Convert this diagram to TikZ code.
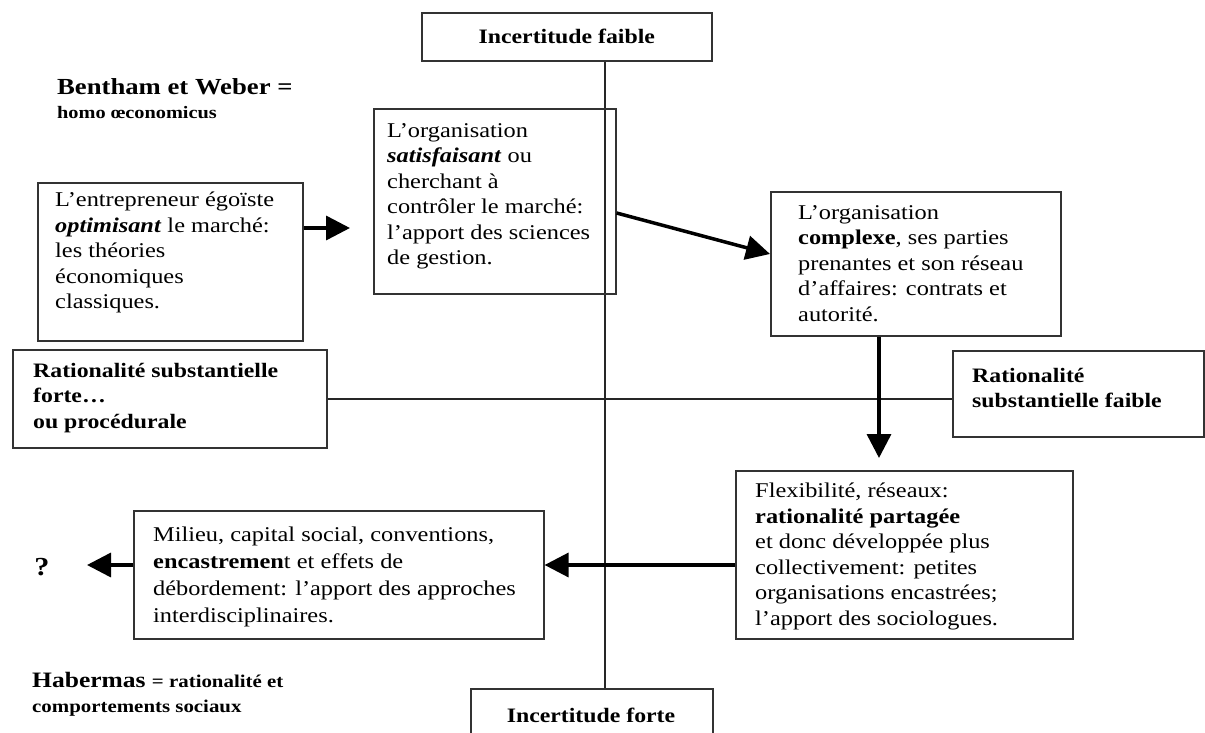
\documentclass[tikz,border=0pt]{standalone}
\usepackage{fontspec}
\setmainfont[FakeStretch=1.16]{Liberation Serif}
\usetikzlibrary{arrows.meta}
\begin{document}
\begin{tikzpicture}[x=1pt,y=-1pt,
  box/.style={draw=black!80, line width=1.6pt, inner sep=0pt, anchor=north west},
  body/.style={anchor=north west, inner sep=0pt, align=left, font=\fontsize{21}{25.5}\selectfont},
  lbl/.style={anchor=north west, inner sep=0pt, align=left, font=\bfseries\fontsize{20.5}{25.5}\selectfont},
  axis/.style={draw=black!85, line width=1.6pt},
  flow/.style={line width=3.5pt, -{Triangle[length=24pt,width=24pt]}}]
\useasboundingbox (0,0) rectangle (1205,733);
\fill[white] (0,0) rectangle (1205,733);

% axes boxes
\node[box, minimum width=290pt, minimum height=48pt, font=\bfseries\fontsize{20.5}{24}\selectfont] (if) at (421,12) {Incertitude faible};
\node[box, minimum width=242pt, minimum height=70pt] (ifo) at (470,688) {};
\node[font=\bfseries\fontsize{20.5}{24}\selectfont, inner sep=0pt] (ifot) at (591,715) {Incertitude forte};
\node[box, minimum width=314pt, minimum height=98pt] (rsf) at (12,349) {};
\node[lbl] (rsft) at (33,363) {Rationalité substantielle\\forte…\\ou procédurale};
\node[box, minimum width=251pt, minimum height=86pt] (rfa) at (952,350) {};
\node[lbl] (rfat) at (972,368) {Rationalité\\substantielle faible};

\coordinate (axx) at (605,0);
\draw[axis] (if.south -| axx) -- (ifo.north -| axx);
\draw[axis] (rsf.east) -- (rsf.east -| rfa.west);

% content boxes
\node[box, minimum width=265pt, minimum height=158pt] (e1) at (37,182) {};
\node[body] (e1t) at (55,192) {L’entrepreneur égoïste\\\textbf{\textit{optimisant}} le marché:\\les théories\\économiques\\classiques.};

\node[box, minimum width=242pt, minimum height=185pt] (s1) at (373,108) {};
\node[body] (s1t) at (387,123) {L’organisation\\\textbf{\textit{satisfaisant}} ou\\cherchant à\\contrôler le marché:\\l’apport des sciences\\de gestion.};

\node[box, minimum width=290pt, minimum height=144pt] (c1) at (770,191) {};
\node[body] (c1t) at (798,205) {L’organisation\\\textbf{complexe}, ses parties\\prenantes et son réseau\\d’affaires: contrats et\\autorité.};

\node[box, minimum width=337pt, minimum height=168pt] (f1) at (735,470) {};
\node[body] (f1t) at (755,483) {Flexibilité, réseaux:\\\textbf{rationalité partagée}\\et donc développée plus\\collectivement: petites\\organisations encastrées;\\l’apport des sociologues.};

\node[box, minimum width=410pt, minimum height=128pt] (m1) at (133,510) {};
\node[body, font=\fontsize{21}{27}\selectfont] (m1t) at (153,527) {Milieu, capital social, conventions,\\\textbf{encastremen}t et effets de\\débordement: l’apport des approches\\interdisciplinaires.};

% free texts
\node[anchor=base west, inner sep=0pt, font=\bfseries\fontsize{23}{26}\selectfont] (bw1) at (57,95) {Bentham et Weber =};
\node[anchor=base west, inner sep=0pt, font=\bfseries\fontsize{17.5}{20}\selectfont] (bw2) at (57,119) {homo œconomicus};
\node[anchor=base west, inner sep=0pt] (hb1) at (32,687) {\bfseries\fontsize{22}{26}\selectfont Habermas \fontsize{18}{20}\selectfont = rationalité et};
\node[anchor=base west, inner sep=0pt, font=\bfseries\fontsize{18}{20}\selectfont] (hb2) at (32,712) {comportements sociaux};
\node[inner sep=0pt, font=\bfseries\fontsize{26}{28}\selectfont] (q) at (42,567) {?};

% arrows
\coordinate (a1e) at (350,228);
\draw[flow] (e1.east |- a1e) -- (a1e);
\coordinate (a2s) at (615,213);
\coordinate (a2e) at (770,254);
\draw[flow] (s1.east |- a2s) -- (c1.west |- a2e);
\coordinate (a3e) at (879,458);
\draw[flow] (c1.south -| a3e) -- (a3e);
\coordinate (a4y) at (0,565);
\draw[flow] (f1.west |- a4y) -- (m1.east |- a4y);
\coordinate (a5e) at (87,565);
\draw[flow] (m1.west |- a5e) -- (a5e);
\end{tikzpicture}
\end{document}
